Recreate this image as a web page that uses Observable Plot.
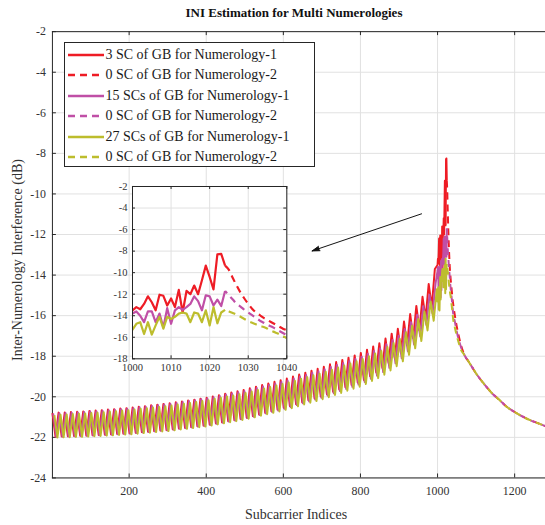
<!DOCTYPE html>
<html><head><meta charset="utf-8">
<script src="https://cdn.jsdelivr.net/npm/d3@7"></script>
<script src="https://cdn.jsdelivr.net/npm/@observablehq/plot@0.6"></script>
<style>
html,body{margin:0;padding:0;background:#fff;overflow:hidden;}
#wrap{position:relative;width:545px;height:525px;overflow:hidden;font-family:"Liberation Serif","Times New Roman",serif;color:#262626;}
#title{position:absolute;left:0;width:588px;top:4px;text-align:center;font-weight:bold;font-size:13px;line-height:18px;color:#111;}
#xlabel{position:absolute;left:0;width:592px;top:506px;text-align:center;font-size:14px;line-height:18px;color:#333;}
#ylabel{position:absolute;left:-131.7px;top:251px;width:300px;height:18px;text-align:center;font-size:14px;line-height:18px;color:#333;transform:rotate(-90deg);transform-origin:150px 9px;}
#legend{position:absolute;left:63.5px;top:42px;width:249px;height:123px;border:1px solid #262626;background:#fff;}
.lrow{position:absolute;left:0;height:20px;width:249px;}
.lrow svg{position:absolute;left:3px;top:0;}
.lrow span{position:absolute;left:41px;top:1px;font-size:14px;line-height:18px;color:#1a1a1a;white-space:nowrap;}
svg{position:absolute;}
</style></head><body>
<div id="wrap">
  <div id="title">INI Estimation for Multi Numerologies</div>
</div>
<script>
// ---------- data ----------
const xTicks = [200, 400, 600, 800, 1000, 1200];
const yTicks = [-24, -22, -20, -18, -16, -14, -12, -10, -8, -6, -4, -2];
const insetXTicks = [1000, 1010, 1020, 1030, 1040];
const insetYTicks = [-18, -16, -14, -12, -10, -8, -6, -4, -2];

const colors = ["#ee1c25", "#c04fa6", "#bdbd2d"];
const legendLabels = [
  "3 SC of GB for Numerology-1",
  "0 SC of GB for Numerology-2",
  "15 SCs of GB for Numerology-1",
  "0 SC of GB for Numerology-2",
  "27 SCs of GB for Numerology-1",
  "0 SC of GB for Numerology-2"
];

// Numerology-1 (solid), coarse vertices: every 8 subcarriers
const coarseStep = 8;
const redStart = 1, magStart = 3, olvStart = 6;
const redCoarse = [-20.80,-21.96,-20.78,-21.95,-20.77,-21.94,-20.75,-21.93,-20.74,-21.92,-20.72,-21.91,-20.70,-21.89,-20.68,-21.88,-20.66,-21.86,-20.63,-21.85,-20.61,-21.83,-20.58,-21.81,-20.56,-21.80,-20.53,-21.77,-20.49,-21.74,-20.46,-21.72,-20.42,-21.69,-20.39,-21.66,-20.35,-21.64,-20.32,-21.60,-20.27,-21.56,-20.23,-21.53,-20.18,-21.49,-20.14,-21.45,-20.09,-21.42,-20.05,-21.37,-19.98,-21.31,-19.92,-21.26,-19.85,-21.20,-19.79,-21.15,-19.73,-21.09,-19.66,-21.03,-19.58,-20.95,-19.50,-20.87,-19.42,-20.79,-19.34,-20.71,-19.26,-20.63,-19.18,-20.54,-19.10,-20.46,-19.00,-20.36,-18.90,-20.27,-18.81,-20.17,-18.71,-20.08,-18.62,-19.98,-18.52,-19.87,-18.40,-19.75,-18.29,-19.64,-18.18,-19.52,-18.07,-19.41,-17.96,-19.30,-17.84,-19.17,-17.68,-18.98,-17.52,-18.80,-17.36,-18.58,-17.13,-18.33,-16.89,-18.08,-16.65,-17.82,-16.29,-17.45,-15.92,-17.11,-15.52,-16.72,-15.07,-16.13,-14.44,-15.57,-13.70];
const magCoarse = [-20.83,-21.98,-20.81,-21.97,-20.80,-21.96,-20.78,-21.95,-20.77,-21.94,-20.75,-21.93,-20.73,-21.91,-20.71,-21.90,-20.69,-21.88,-20.66,-21.87,-20.64,-21.85,-20.61,-21.83,-20.59,-21.82,-20.56,-21.79,-20.52,-21.76,-20.49,-21.74,-20.45,-21.71,-20.42,-21.68,-20.38,-21.66,-20.35,-21.62,-20.30,-21.58,-20.26,-21.55,-20.21,-21.51,-20.17,-21.47,-20.12,-21.44,-20.08,-21.39,-20.02,-21.33,-19.96,-21.28,-19.89,-21.22,-19.84,-21.17,-19.78,-21.11,-19.72,-21.05,-19.64,-20.98,-19.57,-20.90,-19.49,-20.82,-19.42,-20.75,-19.35,-20.68,-19.27,-20.59,-19.20,-20.51,-19.10,-20.41,-19.00,-20.32,-18.92,-20.23,-18.82,-20.14,-18.74,-20.05,-18.64,-19.94,-18.53,-19.83,-18.43,-19.72,-18.33,-19.61,-18.23,-19.51,-18.13,-19.40,-18.02,-19.27,-17.88,-19.11,-17.74,-18.96,-17.61,-18.78,-17.41,-18.57,-17.20,-18.35,-16.99,-18.10,-16.66,-17.76,-16.32,-17.42,-15.95,-17.02,-15.53,-16.45,-14.97,-15.90,-14.40];
const olvCoarse = [-20.90,-22.01,-20.88,-22.00,-20.87,-21.99,-20.85,-21.98,-20.84,-21.97,-20.82,-21.96,-20.80,-21.94,-20.78,-21.93,-20.76,-21.91,-20.73,-21.90,-20.71,-21.88,-20.68,-21.86,-20.66,-21.85,-20.63,-21.82,-20.59,-21.79,-20.56,-21.77,-20.53,-21.74,-20.50,-21.71,-20.46,-21.69,-20.43,-21.65,-20.38,-21.61,-20.34,-21.58,-20.30,-21.54,-20.26,-21.50,-20.21,-21.47,-20.17,-21.42,-20.10,-21.36,-20.05,-21.31,-19.98,-21.25,-19.93,-21.20,-19.87,-21.14,-19.81,-21.08,-19.74,-21.01,-19.66,-20.93,-19.59,-20.86,-19.52,-20.79,-19.44,-20.72,-19.37,-20.64,-19.30,-20.56,-19.21,-20.47,-19.11,-20.38,-19.03,-20.29,-18.94,-20.21,-18.86,-20.12,-18.77,-20.02,-18.66,-19.91,-18.56,-19.81,-18.46,-19.70,-18.36,-19.60,-18.25,-19.50,-18.14,-19.37,-18.00,-19.22,-17.86,-19.08,-17.74,-18.91,-17.55,-18.70,-17.35,-18.49,-17.14,-18.25,-16.82,-17.93,-16.50,-17.61,-16.17,-17.25,-15.80,-16.73,-15.30,-16.25,-14.70];

// Numerology-1 detail near the edge, subcarriers 1000..1024
const detailIdx = [1000,1001,1002,1003,1004,1005,1006,1007,1008,1009,1010,1011,1012,1013,1014,1015,1016,1017,1018,1019,1020,1021,1022,1023,1024];
const redDetail = [-13.5,-13.2,-13.4,-12.9,-12.2,-12.75,-13.5,-12.05,-12.15,-13.05,-12.4,-13.2,-11.6,-13.7,-11.7,-12.0,-11.2,-12.0,-10.7,-9.35,-10.4,-11.55,-8.3,-8.25,-9.35];
const magDetail = [-13.8,-13.6,-14.0,-14.6,-13.6,-13.6,-14.6,-13.8,-15.1,-13.3,-14.75,-13.5,-13.2,-13.45,-13.2,-12.9,-12.2,-12.65,-13.5,-12.1,-12.2,-13.05,-12.5,-13.1,-11.7];
const olvDetail = [-15.3,-14.75,-14.6,-15.7,-14.6,-15.75,-14.9,-14.1,-15.2,-14.1,-14.3,-14.1,-13.8,-13.7,-13.8,-14.6,-13.7,-13.8,-14.6,-13.5,-14.9,-13.2,-14.7,-13.7,-13.45];

// Numerology-2 (dashed)
const dashHeadIdx = [1024,1025,1026,1027,1028,1029,1030,1031,1032,1033,1034,1035,1036,1037,1038,1039,1040,1045,1050,1055,1060];
const redDash = [-9.35,-9.75,-10.5,-11.2,-11.85,-12.4,-12.9,-13.35,-13.7,-13.95,-14.2,-14.4,-14.6,-14.8,-15.0,-15.2,-15.35,-16.0,-16.55,-17.0,-17.4];
const magDash = [-11.7,-12.1,-12.5,-12.9,-13.15,-13.45,-13.7,-13.95,-14.2,-14.45,-14.65,-14.85,-15.0,-15.2,-15.4,-15.6,-15.8,-16.3,-16.8,-17.2,-17.5];
const olvDash = [-13.45,-13.6,-13.75,-13.9,-14.1,-14.3,-14.5,-14.65,-14.8,-14.95,-15.05,-15.2,-15.4,-15.55,-15.7,-15.9,-16.1,-16.6,-17.0,-17.35,-17.65];
const tailIdx = [1070,1080,1090,1100,1120,1140,1160,1180,1200,1220,1240,1260,1280];
const tailVals = [-17.95,-18.25,-18.55,-18.85,-19.35,-19.8,-20.15,-20.5,-20.75,-20.97,-21.15,-21.3,-21.45];

const arrowStart = [958.5, -10.98];
const arrowEnd = [674.5, -12.81];

// ---------- build tables ----------
function solid(start, coarse, detail) {
  const pts = coarse.map((v, k) => ({i: start + k * coarseStep, v}));
  detailIdx.forEach((i, j) => pts.push({i, v: detail[j]}));
  return pts;
}
function dashed(head) {
  return [...dashHeadIdx.map((i, j) => ({i, v: head[j]})), ...tailIdx.map((i, j) => ({i, v: tailVals[j]}))];
}
const series = [
  {solid: solid(redStart, redCoarse, redDetail), dash: dashed(redDash), color: colors[0], off: 0},
  {solid: solid(magStart, magCoarse, magDetail), dash: dashed(magDash), color: colors[1], off: 4},
  {solid: solid(olvStart, olvCoarse, olvDetail), dash: dashed(olvDash), color: colors[2], off: 8}
];

const gridColor = "#e1e1e1";
const axisColor = "#262626";
const font = "Liberation Serif";

function lineMarks(filterFn, sw, clip) {
  const m = [];
  for (const s of series) {
    m.push(Plot.line(s.solid.filter(filterFn), {x: "i", y: "v", stroke: s.color, strokeWidth: sw, strokeLinejoin: "round", strokeLinecap: "butt", clip}));
    m.push(Plot.line(s.dash.filter(filterFn), {x: "i", y: "v", stroke: s.color, strokeWidth: sw, strokeDasharray: "7,5", strokeDashoffset: s.off, strokeLinecap: "butt", curve: "monotone-x", clip}));
  }
  return m;
}

// ---------- main plot ----------
const W = 551, H = 525, mL = 52.5, mR = 0, mT = 31.5, mB = 42.3;
const plotW = W - mL - mR, plotH = H - mT - mB;
const main = Plot.plot({
  width: W, height: H, marginLeft: mL, marginRight: mR, marginTop: mT, marginBottom: mB,
  style: {fontFamily: font, fontSize: "12px", color: "#333", background: "transparent"},
  x: {domain: [1, 1280]},
  y: {domain: [-24, -2]},
  marks: [
    Plot.gridX({ticks: xTicks, stroke: gridColor, strokeOpacity: 1}),
    Plot.gridY({ticks: yTicks, stroke: gridColor, strokeOpacity: 1}),
    Plot.ruleX(xTicks, {x: d => d, insetTop: plotH - 4, stroke: axisColor}),
    Plot.ruleX(xTicks, {x: d => d, insetBottom: plotH - 4, stroke: axisColor}),
    Plot.ruleY(yTicks, {y: d => d, insetRight: plotW - 4, stroke: axisColor}),
    Plot.frame({stroke: axisColor}),
    Plot.axisX({ticks: xTicks, tickSize: 0, tickPadding: 9, tickFormat: d => String(d), label: null}),
    Plot.axisY({ticks: yTicks, tickSize: 0, tickPadding: 6.5, tickFormat: d => String(d), label: null}),
    ...lineMarks(() => true, 2, false),
    Plot.arrow([{x1: arrowStart[0], y1: arrowStart[1], x2: arrowEnd[0], y2: arrowEnd[1]}],
      {x1: "x1", y1: "y1", x2: "x2", y2: "y2", stroke: "#111", fill: "#111", strokeWidth: 1, headLength: 12, headAngle: 34})
  ]
});
main.style.left = "0px"; main.style.top = "0px";
const wrap = document.getElementById("wrap");
wrap.appendChild(main);

// ---------- inset ----------
const iL = 131.7, iT = 186, iR = 286, iB = 358.3;
const imL = 40, imR = 12, imT = 8, imB = 22;
const iW = iR - iL, iH = iB - iT;
const inset = Plot.plot({
  width: imL + iW + imR, height: imT + iH + imB,
  marginLeft: imL, marginRight: imR, marginTop: imT, marginBottom: imB,
  style: {fontFamily: font, fontSize: "10.5px", color: "#333", background: "transparent"},
  x: {domain: [1000, 1040]},
  y: {domain: [-18, -2]},
  marks: [
    Plot.frame({fill: "white", stroke: "none"}),
    Plot.gridX({ticks: insetXTicks, stroke: gridColor, strokeOpacity: 1}),
    Plot.gridY({ticks: insetYTicks, stroke: gridColor, strokeOpacity: 1}),
    Plot.ruleX(insetXTicks, {x: d => d, insetTop: iH - 3, stroke: axisColor}),
    Plot.ruleX(insetXTicks, {x: d => d, insetBottom: iH - 3, stroke: axisColor}),
    Plot.ruleY(insetYTicks, {y: d => d, insetRight: iW - 3, stroke: axisColor}),
    Plot.ruleY(insetYTicks, {y: d => d, insetLeft: iW - 3, stroke: axisColor}),
    Plot.axisX({ticks: insetXTicks, tickSize: 0, tickPadding: 4.5, tickFormat: d => String(d), label: null}),
    Plot.axisY({ticks: insetYTicks, tickSize: 0, tickPadding: 5, tickFormat: d => String(d), label: null}),
    ...lineMarks(d => d.i >= 985 && d.i <= 1060, 2.2, true),
    Plot.frame({stroke: axisColor})
  ]
});
inset.style.left = (iL - imL) + "px"; inset.style.top = (iT - imT) + "px";
wrap.appendChild(inset);

// ---------- legend ----------
const legend = document.createElement("div");
legend.id = "legend";
const rowTops = [1.8, 22.3, 42.8, 63.3, 83.8, 104.3];
legendLabels.forEach((lab, j) => {
  const row = document.createElement("div");
  row.className = "lrow";
  row.style.top = rowTops[j] + "px";
  const c = colors[Math.floor(j / 2)];
  const dash = j % 2 === 1 ? ' stroke-dasharray="7,5"' : "";
  row.innerHTML = `<svg width="37" height="20"><line x1="0" x2="36" y1="10" y2="10" stroke="${c}" stroke-width="2.5"${dash}/></svg><span>${lab}</span>`;
  legend.appendChild(row);
});
wrap.appendChild(legend);

// ---------- axis labels ----------
const xl = document.createElement("div"); xl.id = "xlabel"; xl.textContent = "Subcarrier Indices"; wrap.appendChild(xl);
const yl = document.createElement("div"); yl.id = "ylabel"; yl.textContent = "Inter-Numerology Interference (dB)"; wrap.appendChild(yl);
</script>
</body></html>
